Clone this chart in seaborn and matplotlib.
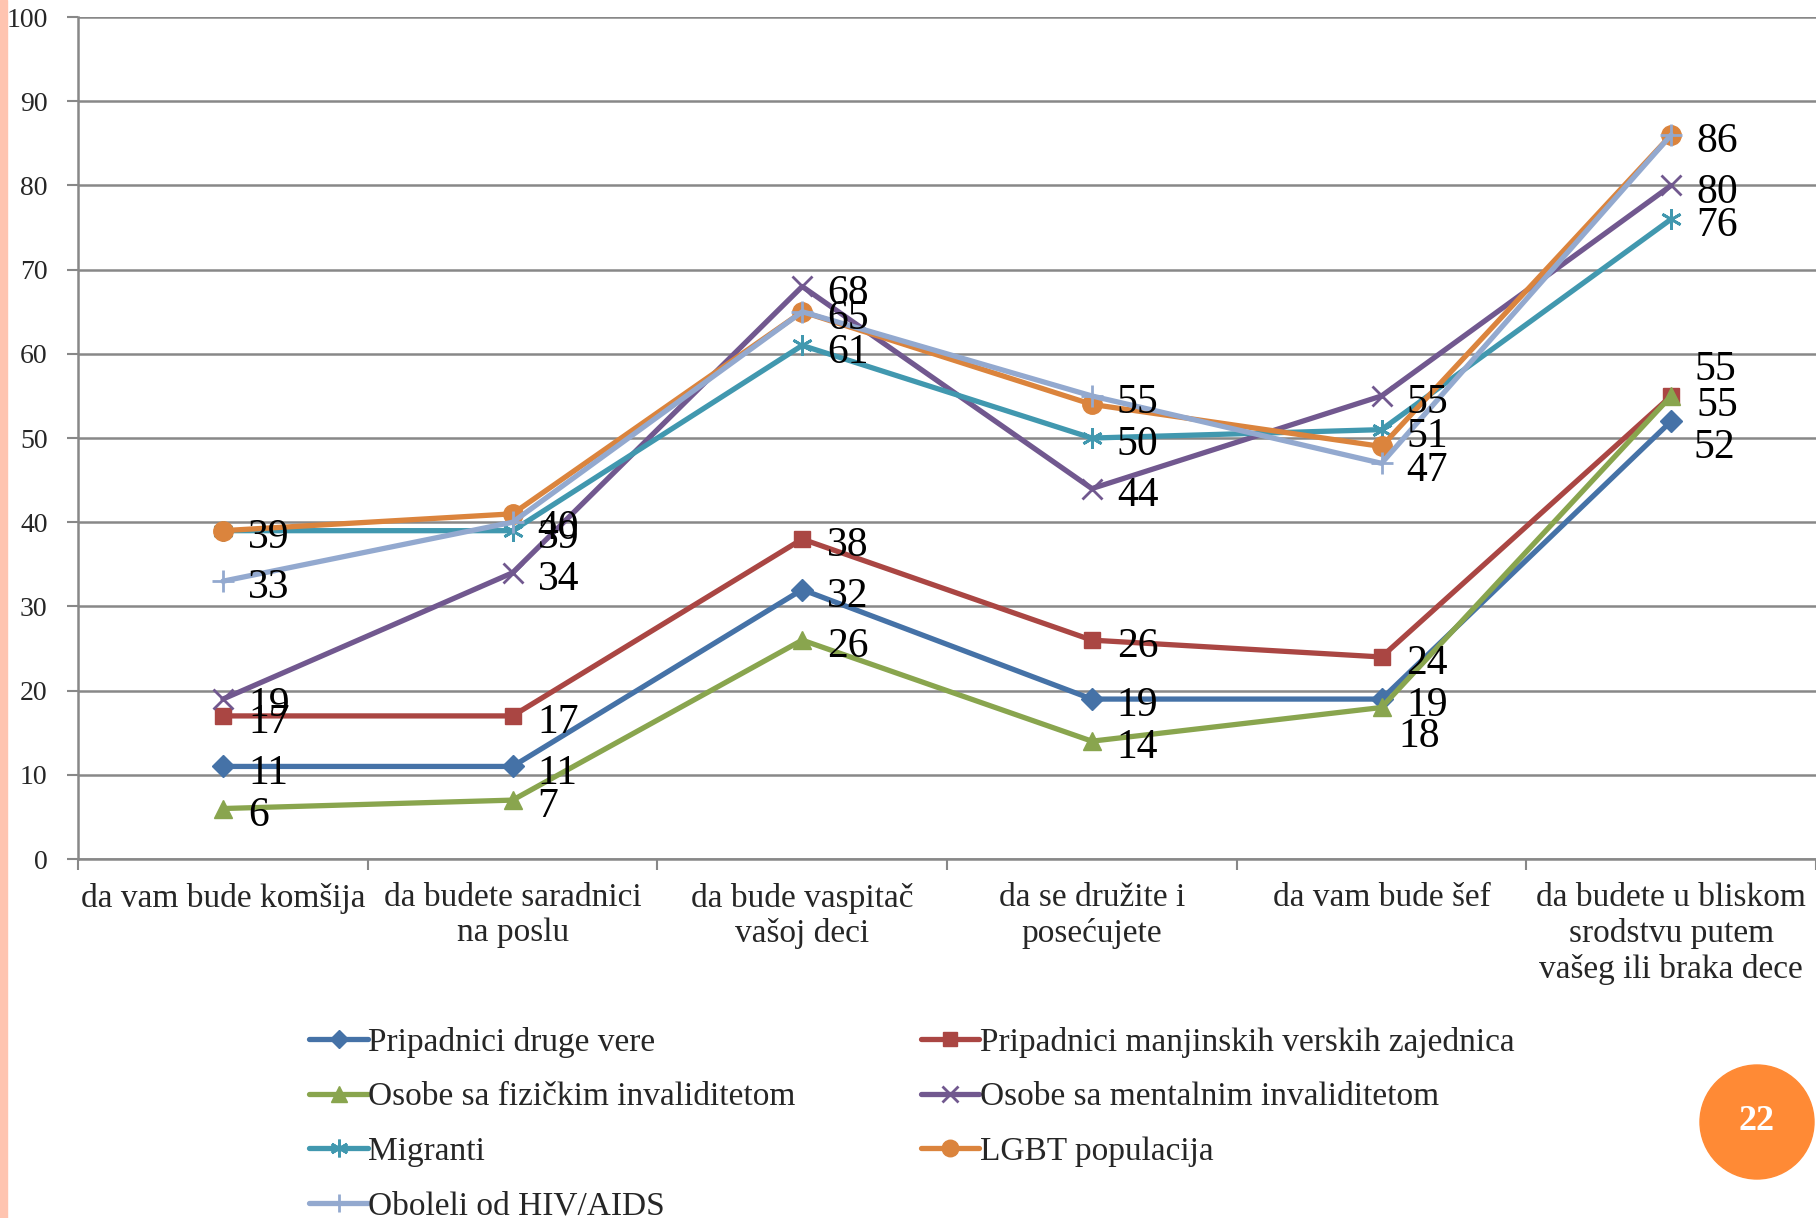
import matplotlib
matplotlib.use("Agg")
import matplotlib.pyplot as plt
import seaborn as sns
import numpy as np
from matplotlib.lines import Line2D
from matplotlib.patches import Rectangle, Circle

categories = ["da vam bude komšija", "da budete saradnici\nna poslu",
              "da bude vaspitač\nvašoj deci", "da se družite i\nposećujete",
              "da vam bude šef",
              "da budete u bliskom\nsrodstvu putem\nvašeg ili braka dece"]

druge_vere = [11, 11, 32, 19, 19, 52]
manjinske_zajednice = [17, 17, 38, 26, 24, 55]
fizicki_invaliditet = [6, 7, 26, 14, 18, 55]
mentalni_invaliditet = [19, 34, 68, 44, 55, 80]
migranti = [39, 39, 61, 50, 51, 76]
lgbt = [39, 41, 65, 54, 49, 86]
hiv_aids = [33, 40, 65, 55, 47, 86]

series_names = ["Pripadnici druge vere", "Pripadnici manjinskih verskih zajednica",
                "Osobe sa fizičkim invaliditetom", "Osobe sa mentalnim invaliditetom",
                "Migranti", "LGBT populacija", "Oboleli od HIV/AIDS"]
series_values = [druge_vere, manjinske_zajednice, fizicki_invaliditet,
                 mentalni_invaliditet, migranti, lgbt, hiv_aids]
# the LGBT series carries no data labels in the original
show_labels = [True, True, True, True, True, False, True]

colors = ["#4572A7", "#AA4643", "#89A54E", "#71588F", "#4198AF", "#DB843D", "#93A9CF"]
markers = ["D", "s", "^", "x", (6, 2, 0), "o", "+"]
msizes = [11, 12, 13, 14, 15, 14, 16]
medge = [1, 1, 1, 2, 2, 1, 2]

sns.set_theme(style="white")
plt.rcParams["font.family"] = ["Liberation Serif", "DejaVu Serif"]

fig = plt.figure(figsize=(18.16, 12.18), dpi=100)
ax = fig.add_axes([0.043, 0.2947, 0.957, 0.6913])

x = np.arange(len(categories))
handles = []
for name, vals, c, m, ms, me in zip(series_names, series_values, colors, markers, msizes, medge):
    sns.lineplot(x=x, y=vals, ax=ax, color=c, linewidth=3.8, marker=m,
                 markersize=ms, markeredgewidth=me, markeredgecolor=c, sort=False,
                 legend=False)
    handles.append(Line2D([0], [0], color=c, linewidth=3.8, marker=m,
                          markersize=ms * 0.85, markeredgewidth=me,
                          markeredgecolor=c, label=name))

# label offsets (points), a few moved like in the original
offsets = {(1, 5): (17, 19), (2, 5): (18, -7), (0, 5): (16, -19), (2, 4): (12, -21)}
for si, vals in enumerate(series_values):
    if not show_labels[si]:
        continue
    for ci, v in enumerate(vals):
        dx, dy = offsets.get((si, ci), (18, -5))
        ax.annotate(str(v), (ci, v), xytext=(dx, dy), textcoords="offset points",
                    fontsize=30, ha="left", va="center", color="black")

ax.set_xlim(-0.5, len(categories) - 0.5)
ax.set_ylim(0, 100)
ax.set_yticks(np.arange(0, 101, 10))
ax.yaxis.grid(True, color="#888888", linewidth=1.8)
ax.tick_params(axis="y", labelsize=20, length=8, width=1.5, color="#888888", pad=14, left=True)
ax.set_xticks(x)
ax.set_xticklabels(categories, fontsize=24, linespacing=1.2)
ax.tick_params(axis="x", which="major", length=0, pad=17)
ax.set_xticks(np.arange(-0.5, len(categories)), minor=True)
ax.tick_params(axis="x", which="minor", length=8, width=1.5, color="#888888", bottom=True)
for s in ["top", "right"]:
    ax.spines[s].set_visible(False)
for s in ["left", "bottom"]:
    ax.spines[s].set_color("#888888")
    ax.spines[s].set_linewidth(1.8)
ax.set_xlabel("")
ax.set_ylabel("")

order = [0, 2, 4, 6, 1, 3, 5]
fig.legend([handles[i] for i in order], [series_names[i] for i in order],
           loc="upper left", bbox_to_anchor=(0.163, 0.168), ncol=2, frameon=False,
           fontsize=24, handlelength=1.75, handletextpad=0.02, labelspacing=0.72,
           columnspacing=3.75, borderaxespad=0)

fig.add_artist(Rectangle((0, 0), 0.004, 1, transform=fig.transFigure,
                         color="#FFC4B0", zorder=0))
fig.add_artist(Circle((1757, 1218 - 1122), 57, transform=None, color="#FF8A35"))
fig.text(1757 / 1816, 1 - 1122 / 1218, "22", color="white", fontsize=26,
         fontweight="bold", ha="center", va="center")

fig.savefig("out.png", dpi=100)
